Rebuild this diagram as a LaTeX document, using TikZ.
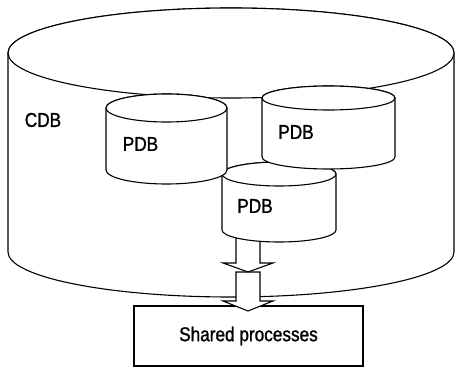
\documentclass[tikz,border=0pt]{standalone}
\usepackage{fontspec}
\setmainfont[FakeStretch=0.86, FakeBold=1.2]{Liberation Sans}
\usepackage{tikz}
\usetikzlibrary{shapes.geometric}
\tikzstyle{drum} = [draw=black, fill=white, line width=1.1pt]
\tikzstyle{dbtext} = [inner sep=0pt, text=black, font=\fontsize{20}{24}\selectfont]
\tikzstyle{procbox} = [rectangle, draw=black, fill=white, line width=1.1pt, minimum width=229pt, minimum height=60pt, text centered, font=\fontsize{20}{24}\selectfont]
\tikzstyle{fatarrow} = [draw=black, fill=white, line width=1.1pt, line join=miter]
% cylinder: centre x, top y, bottom y, x radius, y radius
\newcommand{\drumshape}[5]{
	\path[drum] (#1-#4,#2) -- (#1-#4,#3) arc[start angle=180, end angle=360, x radius=#4, y radius=#5]
		-- (#1+#4,#2) arc[start angle=0, end angle=180, x radius=#4, y radius=#5] -- cycle;
	\draw[drum] (#1,#2) ellipse[x radius=#4, y radius=#5];
}
% block arrow from a coordinate downwards: shaft length, head length
\newcommand{\fatarrow}[3]{
	\path[fatarrow] (#1) ++(-12,0) -- ++(0,-#2) -- ++(-13,0) -- ++(25,-#3) -- ++(25,#3) -- ++(-13,0) -- ++(0,#2) -- cycle;
}

\begin{document}
\begin{tikzpicture}[x=1pt, y=1pt]
	\useasboundingbox (0,0) rectangle (455,367);

	% container
	\drumshape{231}{314}{115}{223}{45}
	\node (cdb) [dbtext] at (43,247) {CDB};

	% shared processes
	\node (shared) [procbox] at (248.5,31) {Shared processes};
	\coordinate (outA) at (248,130);
	\coordinate (outB) at (248,95);
	\fatarrow{outB}{29}{10}
	\fatarrow{outA}{26}{9}

	% pluggable databases
	\drumshape{279}{193}{137}{57}{12}
	\drumshape{166.5}{259}{197}{60.5}{14}
	\drumshape{328.5}{269}{210}{66.5}{12}
	\node (pdbone) [dbtext] at (140.5,223) {PDB};
	\node (pdbtwo) [dbtext] at (296,235) {PDB};
	\node (pdbthree) [dbtext] at (255,161) {PDB};
\end{tikzpicture}
\end{document}
